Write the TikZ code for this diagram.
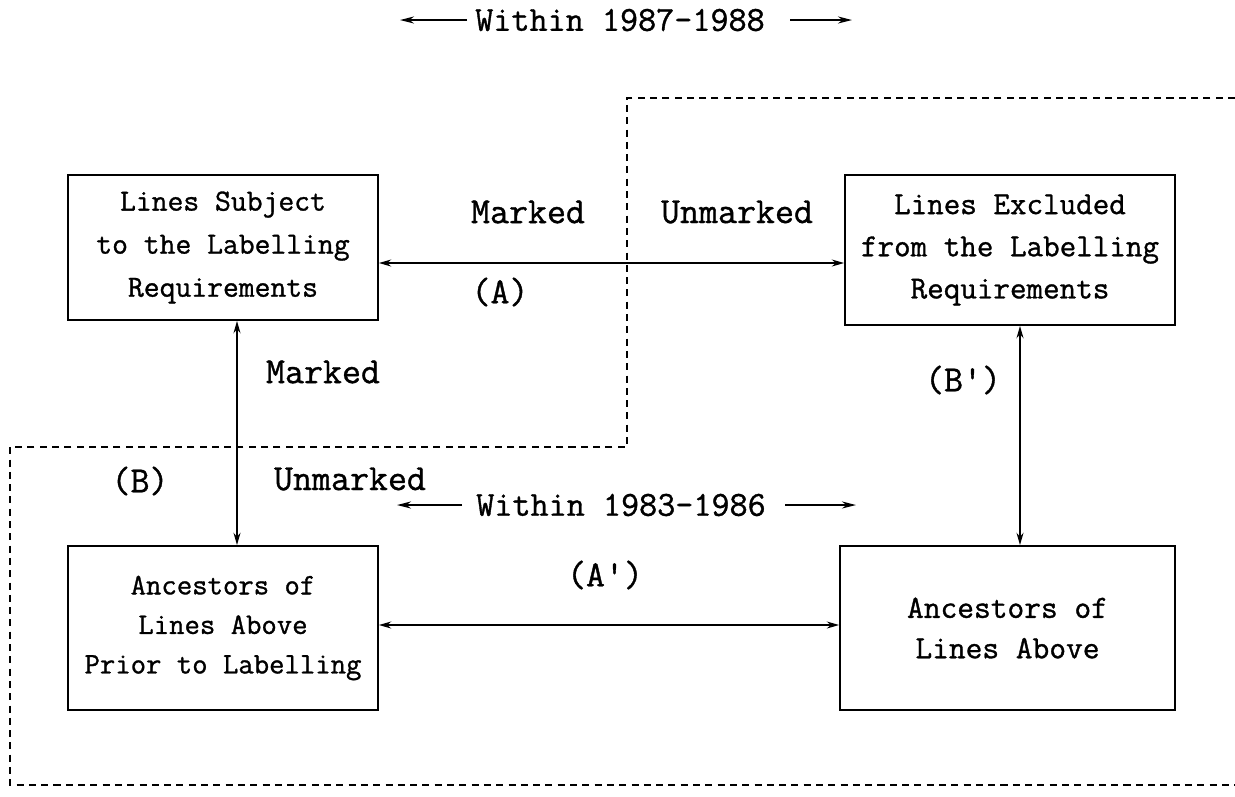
\documentclass[tikz,border=0pt]{standalone}
\usepackage{fontspec}
\newfontfamily\tw{Latin Modern Mono}[FakeBold=1]
\usetikzlibrary{arrows.meta}
\begin{document}
\begin{tikzpicture}[x=0.02cm,y=-0.02cm,
  box/.style={draw,line width=1.1pt,align=center,inner sep=0pt},
  lbl/.style={font=\tw\fontsize{21}{24}\selectfont,inner sep=0pt},
  ttl/.style={font=\tw\fontsize{20}{24}\selectfont,inner sep=0pt},
  arr/.style={line width=0.8pt,{Stealth[length=7pt,width=4pt]}-{Stealth[length=7pt,width=4pt]}},
  oarr/.style={line width=0.9pt,-{Stealth[length=8pt,width=4pt]}},
  dsh/.style={line width=0.8pt,dash pattern=on 4pt off 3pt}]
\useasboundingbox (0,0) rectangle (1235,796);
% boxes
\node[box,minimum width=6.2cm,minimum height=2.9cm,font=\tw\fontsize{17.5}{24.5}\selectfont] (TL) at (223,247.5)
  {Lines Subject\\to the Labelling\\Requirements};
\node[box,minimum width=6.6cm,minimum height=3.0cm,font=\tw\fontsize{18.3}{24}\selectfont] (TR) at (1010,250)
  {Lines Excluded\\from the Labelling\\Requirements};
\node[box,minimum width=6.2cm,minimum height=3.28cm,font=\tw\fontsize{17}{22.5}\selectfont] (BL) at (223,628)
  {Ancestors of\\Lines Above\\Prior to Labelling};
\node[box,minimum width=6.7cm,minimum height=3.28cm,font=\tw\fontsize{18.5}{23}\selectfont] (BR) at (1007.5,628)
  {Ancestors of\\Lines Above};
% connectors
\coordinate (ya) at (0,263);
\coordinate (xb) at (237,0);
\coordinate (xbp) at (1020,0);
\draw[arr] (TL.east |- ya) -- (TR.west |- ya);
\draw[arr] (TL.south -| xb) -- (BL.north -| xb);
\draw[arr] (TR.south -| xbp) -- (BR.north -| xbp);
\draw[arr] (BL.east |- 0,625) -- (BR.west |- 0,625);
% dashed boundary
\draw[dsh] (1235,98) -- (627,98) -- (627,447) -- (10,447) -- (10,785) -- (1235,785);
% labels
\node[lbl] (m1) at (528,212) {Marked};
\node[lbl] (u1) at (737,212) {Unmarked};
\node[lbl] (la) at (500,292) {(A)};
\node[lbl] (m2) at (323,372) {Marked};
\node[lbl] (u2) at (350,479) {Unmarked};
\node[lbl] (lb) at (140,481) {(B)};
\node[lbl] (lbp) at (963,380) {(B')};
\node[lbl] (lap) at (605,575) {(A')};
% titles
\node[ttl] (t1) at (620,20) {Within 1987\textendash1988};
\coordinate (t1a) at (467,20);
\coordinate (t1l) at (400,20);
\coordinate (t1b) at (790,20);
\coordinate (t1r) at (852,20);
\draw[oarr] (t1a) -- (t1l);
\draw[oarr] (t1b) -- (t1r);
\node[ttl] (t2) at (621,505) {Within 1983\textendash1986};
\coordinate (t2a) at (462,505);
\coordinate (t2l) at (397,505);
\coordinate (t2b) at (785,505);
\coordinate (t2r) at (856,505);
\draw[oarr] (t2a) -- (t2l);
\draw[oarr] (t2b) -- (t2r);
\end{tikzpicture}
\end{document}
